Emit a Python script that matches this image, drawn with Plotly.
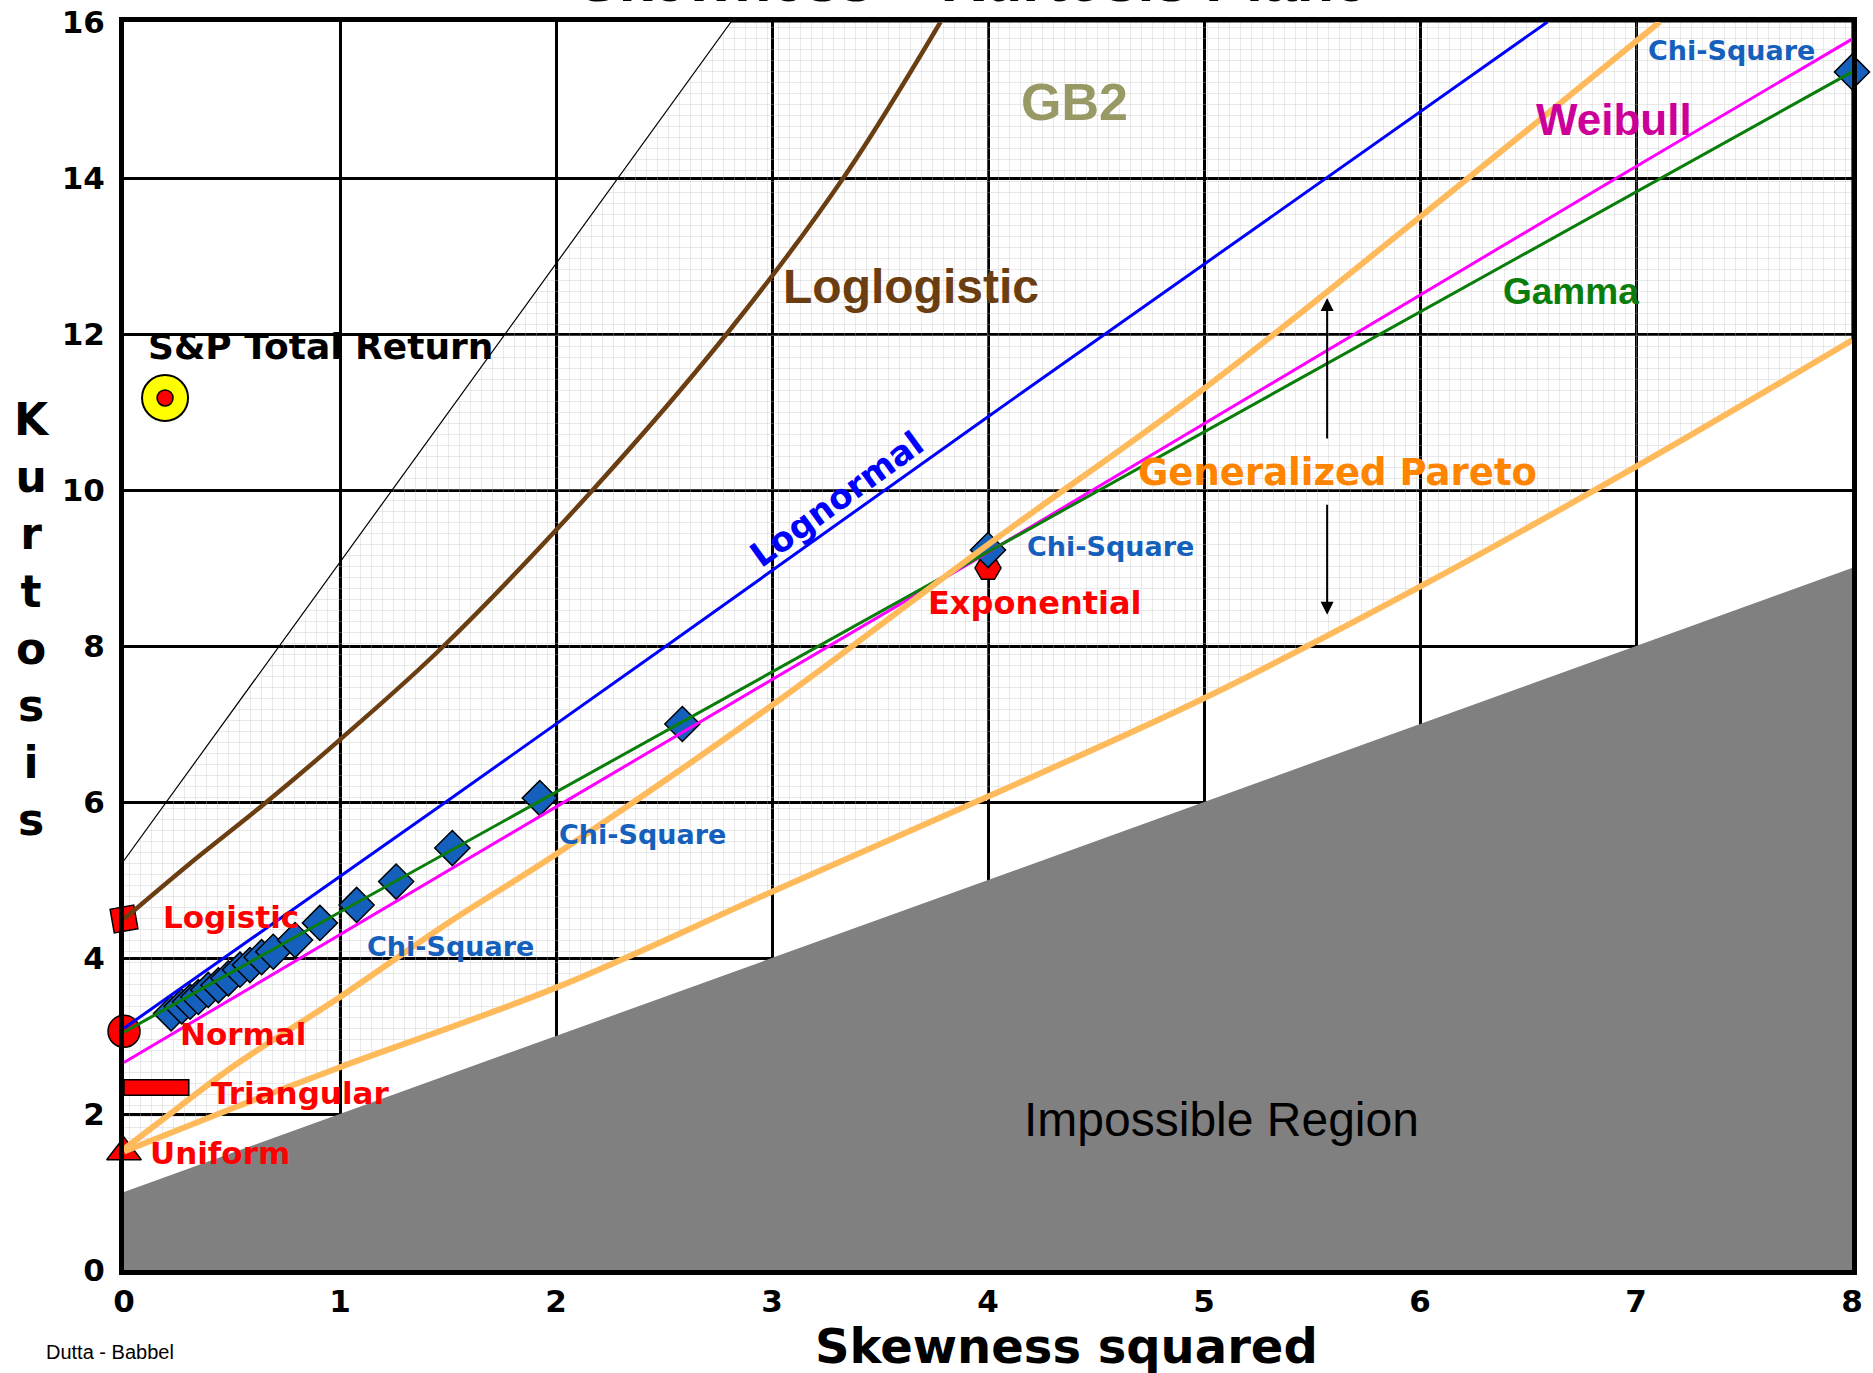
import plotly.graph_objects as go

# axis extent and ticks
X_MAX, Y_MAX = 8, 16
X_TICKS = [0, 1, 2, 3, 4, 5, 6, 7, 8]
Y_TICKS = [0, 2, 4, 6, 8, 10, 12, 14, 16]

# impossible region boundary (kurtosis = skew^2 + 1)
IMP_X = [0, 8]
IMP_Y = [1.0, 9.0]

# upper boundary of the GB2 (patterned) region
GB2_X = [0, 2.81]
GB2_Y = [5.25, 16.0]

# distribution lines
LOGNORMAL_X = [0, 1.49, 2.51, 4.0, 6.59]
LOGNORMAL_Y = [3.1, 6.0, 8.0, 10.94, 16.0]

WEIBULL_X = [0, 2.02, 4.0, 6.91, 8.0]
WEIBULL_Y = [2.66, 5.97, 9.2, 14.0, 15.78]

GAMMA_X = [0, 2.585, 4.0, 8.0]
GAMMA_Y = [3.05, 7.03, 9.21, 15.36]

LOGLOG_X = [0, 0.3, 0.66, 1.0, 1.48, 2.17, 2.79, 3.33, 3.78]
LOGLOG_Y = [4.5, 5.2, 6.0, 6.8, 8.0, 10.0, 12.0, 14.0, 16.0]

GP_UP_X = [0, 0.25, 0.5, 1.0, 1.5, 2.0, 3.0, 4.0, 5.0, 6.0, 7.11]
GP_UP_Y = [1.55, 2.08, 2.6, 3.5, 4.45, 5.33, 7.24, 9.3, 11.3, 13.5, 16.0]

GP_LOW_X = [0, 0.5, 1.0, 2.0, 3.0, 4.0, 5.0, 6.0, 7.0, 8.0]
GP_LOW_Y = [1.52, 2.07, 2.6, 3.62, 4.85, 6.07, 7.33, 8.76, 10.3, 11.92]

# chi-square points
CHI_X = [0.218, 0.267, 0.306, 0.344, 0.39, 0.437, 0.483, 0.537, 0.583, 0.637,
         0.691, 0.792, 0.907, 1.077, 1.26, 1.52, 1.925, 2.585, 4.0, 8.0]
CHI_Y = [3.29, 3.38, 3.44, 3.50, 3.59, 3.65, 3.74, 3.85, 3.91, 4.01,
         4.08, 4.23, 4.45, 4.68, 4.98, 5.41, 6.05, 7.0, 9.23, 15.36]

# single distributions
NORMAL = (0, 3.06)
LOGISTIC = (0, 4.5)
UNIFORM = (0, 1.51)
EXPONENTIAL = (4.0, 9.0)
TRIANGULAR_X = [0, 0.3]
TRIANGULAR_Y = [2.24, 2.44]
SP500 = (0.19, 11.18)

# arrows around Generalized Pareto label
ARROW_X = 5.57
ARROW_UP = (10.64, 12.46)
ARROW_DOWN = (9.83, 8.4)

BOLD = "DejaVu Sans"
ARIAL = "Liberation Sans, Arial"
CHI_BLUE = "#1560BD"
ORANGE = "#FFBA5C"

fig = go.Figure()

# patterned GB2 region
fig.add_trace(go.Scatter(
    x=GB2_X + [X_MAX, X_MAX] + GP_LOW_X[::-1],
    y=GB2_Y + [Y_MAX, GP_LOW_Y[-1]] + GP_LOW_Y[::-1],
    mode="lines", fill="toself", fillcolor="rgba(0,0,0,0)",
    fillpattern=dict(shape="+", fgcolor="#BEBEBE", size=11, solidity=0.12),
    line=dict(color="black", width=1.2), hoverinfo="skip"))

# impossible region
fig.add_trace(go.Scatter(
    x=[IMP_X[0]] + IMP_X + [IMP_X[-1]],
    y=[0] + IMP_Y + [0],
    mode="lines", fill="toself", fillcolor="#808080",
    line=dict(color="#808080", width=0), hoverinfo="skip"))


def points(x, y, symbol, size, color, angle=0, lw=1.5):
    fig.add_trace(go.Scatter(x=x, y=y, mode="markers", cliponaxis=False,
                             marker=dict(symbol=symbol, size=size, color=color, angle=angle,
                                         line=dict(color="black", width=lw))))


# markers (drawn beneath the lines)
points([EXPONENTIAL[0]], [EXPONENTIAL[1]], "hexagon2", 26, "red")
points(CHI_X, CHI_Y, "diamond", 27, CHI_BLUE)
points([NORMAL[0]], [NORMAL[1]], "circle", 32, "red")
points([LOGISTIC[0]], [LOGISTIC[1]], "square", 24, "red", angle=-10)
points([UNIFORM[0]], [UNIFORM[1]], "triangle-up", 30, "red")
points([SP500[0]], [SP500[1]], "circle", 46, "yellow", lw=2)
points([SP500[0]], [SP500[1]], "circle", 16, "red")

fig.add_shape(type="rect", xref="x", yref="y",
              x0=TRIANGULAR_X[0], x1=TRIANGULAR_X[1],
              y0=TRIANGULAR_Y[0], y1=TRIANGULAR_Y[1],
              fillcolor="red", line=dict(color="black", width=1.5), layer="above")

# lines
fig.add_trace(go.Scatter(x=LOGLOG_X, y=LOGLOG_Y, mode="lines", line_shape="spline",
                         line=dict(color="#6B3E12", width=4.5)))
fig.add_trace(go.Scatter(x=LOGNORMAL_X, y=LOGNORMAL_Y, mode="lines",
                         line=dict(color="#0000FF", width=3)))
fig.add_trace(go.Scatter(x=WEIBULL_X, y=WEIBULL_Y, mode="lines",
                         line=dict(color="#FF00FF", width=3)))
fig.add_trace(go.Scatter(x=GAMMA_X, y=GAMMA_Y, mode="lines",
                         line=dict(color="#0A7D0A", width=3)))
fig.add_trace(go.Scatter(x=GP_LOW_X, y=GP_LOW_Y, mode="lines", line_shape="spline",
                         line=dict(color=ORANGE, width=6)))
fig.add_trace(go.Scatter(x=GP_UP_X, y=GP_UP_Y, mode="lines", line_shape="spline",
                         line=dict(color=ORANGE, width=6)))


def label(text, x, y, color, size, family=BOLD, weight="bold", xanchor="center", angle=0):
    fig.add_annotation(x=x, y=y, text=text, showarrow=False, xanchor=xanchor,
                       yanchor="middle", textangle=angle,
                       font=dict(family=family, size=size, color=color, weight=weight))


label("GB2", 4.40, 14.98, "#999966", 52, family=ARIAL)
label("Loglogistic", 3.645, 12.61, "#6B3E12", 48, family=ARIAL)
label("S&P Total Return", 0.10, 11.84, "black", 36, xanchor="left")
label("Lognormal", 3.30, 9.88, "#0000FF", 34, angle=-36)
label("Weibull", 6.90, 14.75, "#CC0099", 44, family=ARIAL)
label("Gamma", 6.70, 12.55, "#0A7D0A", 37, family=ARIAL)
label("Generalized Pareto", 5.62, 10.22, "#FF8400", 37)
label("Chi-Square", 7.44, 15.64, CHI_BLUE, 27)
label("Chi-Square", 4.17, 9.28, CHI_BLUE, 27, xanchor="left")
label("Chi-Square", 2.40, 5.58, CHI_BLUE, 27)
label("Chi-Square", 1.51, 4.15, CHI_BLUE, 27)
label("Exponential", 4.215, 8.55, "red", 32)
label("Logistic", 0.173, 4.52, "red", 31, xanchor="left")
label("Normal", 0.25, 3.02, "red", 31, xanchor="left")
label("Triangular", 0.394, 2.27, "red", 31, xanchor="left")
label("Uniform", 0.111, 1.50, "red", 31, xanchor="left")
label("Impossible Region", 5.08, 1.93, "black", 48, family=ARIAL, weight="normal")

for tail, head in [ARROW_UP, ARROW_DOWN]:
    fig.add_annotation(x=ARROW_X, y=head, ax=ARROW_X, ay=tail, axref="x", ayref="y",
                       text="", showarrow=True, arrowhead=2, arrowsize=1.3,
                       arrowwidth=2, arrowcolor="black")

# title (partly cut off at the top of the page), axis titles, credit
fig.add_annotation(xref="paper", yref="paper", x=0.4913, y=1.005, xanchor="center",
                   yanchor="bottom", text="Skewness – Kurtosis Plane", showarrow=False,
                   font=dict(family=ARIAL, size=61, color="black", weight="bold"))
fig.add_annotation(xref="paper", yref="paper", x=0.5457, y=-0.0609, xanchor="center",
                   yanchor="middle", text="Skewness squared", showarrow=False,
                   font=dict(family=BOLD, size=48, color="black", weight="bold"))
fig.add_annotation(xref="paper", yref="paper", x=-0.0532, y=0.521, xanchor="center",
                   yanchor="middle", text="<br>".join("Kurtosis"), showarrow=False,
                   font=dict(family=BOLD, size=44, color="black", weight="bold"))
fig.add_annotation(xref="paper", yref="paper", x=-0.0081, y=-0.0657, xanchor="center",
                   yanchor="middle", text="Dutta - Babbel", showarrow=False,
                   font=dict(family=ARIAL, size=20, color="black"))

axis_style = dict(showgrid=True, gridcolor="black", gridwidth=2.5, zeroline=False,
                  showline=True, linecolor="black", linewidth=5, mirror=True,
                  automargin=False, ticks="",
                  tickfont=dict(family=BOLD, size=31, color="black", weight="bold"))
fig.update_xaxes(range=[0, X_MAX], tickvals=X_TICKS, ticklabelstandoff=0, **axis_style)
fig.update_yaxes(range=[0, Y_MAX], tickvals=Y_TICKS, ticklabelstandoff=8, **axis_style)

fig.update_layout(width=1873, height=1373, autosize=False, showlegend=False,
                  margin=dict(l=124, r=21, t=22, b=103),
                  plot_bgcolor="white", paper_bgcolor="white")

# page body has a default 8px margin; drop it so the figure fills the window
fig.write_html("out.html", config={"displayModeBar": False},
               post_script="document.body.style.margin = '0';")
